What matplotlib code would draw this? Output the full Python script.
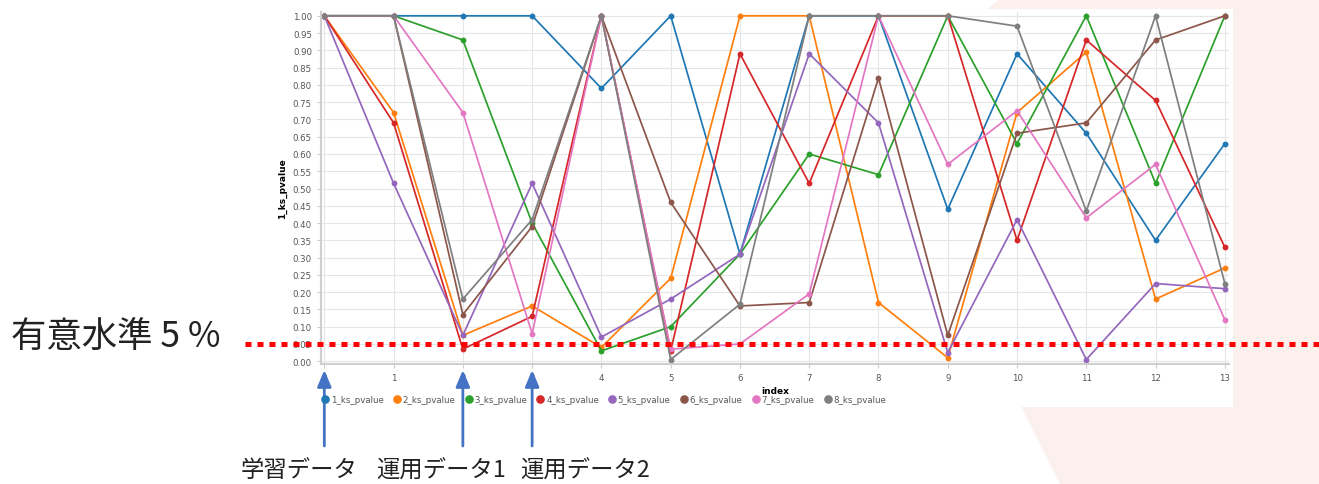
import matplotlib.pyplot as plt
import numpy as np
from matplotlib.lines import Line2D
from matplotlib.patches import Polygon, Rectangle
from matplotlib.transforms import blended_transform_factory

# KS test p-values per feature, one value per data batch (index 0..13)
index = np.arange(14)
ks_1 = [1.00, 1.00, 1.00, 1.00, 0.79, 1.00, 0.31, 1.00, 1.00, 0.44, 0.89, 0.66, 0.35, 0.63]
ks_2 = [1.00, 0.72, 0.075, 0.16, 0.04, 0.24, 1.00, 1.00, 0.17, 0.01, 0.72, 0.895, 0.18, 0.27]
ks_3 = [1.00, 1.00, 0.93, 0.40, 0.03, 0.10, 0.31, 0.60, 0.54, 1.00, 0.63, 1.00, 0.515, 1.00]
ks_4 = [1.00, 0.69, 0.035, 0.13, 1.00, 0.03, 0.89, 0.515, 1.00, 1.00, 0.35, 0.93, 0.755, 0.33]
ks_5 = [1.00, 0.515, 0.075, 0.515, 0.07, 0.18, 0.31, 0.89, 0.69, 0.025, 0.41, 0.005, 0.225, 0.21]
ks_6 = [1.00, 1.00, 0.135, 0.39, 1.00, 0.46, 0.16, 0.17, 0.82, 0.075, 0.66, 0.69, 0.93, 1.00]
ks_7 = [1.00, 1.00, 0.72, 0.08, 1.00, 0.035, 0.05, 0.195, 1.00, 0.57, 0.725, 0.415, 0.57, 0.12]
ks_8 = [1.00, 1.00, 0.18, 0.41, 1.00, 0.005, 0.165, 1.00, 1.00, 1.00, 0.97, 0.435, 1.00, 0.225]
series = [ks_1, ks_2, ks_3, ks_4, ks_5, ks_6, ks_7, ks_8]
names = ["1_ks_pvalue", "2_ks_pvalue", "3_ks_pvalue", "4_ks_pvalue",
         "5_ks_pvalue", "6_ks_pvalue", "7_ks_pvalue", "8_ks_pvalue"]
colors = ["#1f77b4", "#ff7f0e", "#2ca02c", "#d62728",
          "#9467bd", "#8c564b", "#e377c2", "#7f7f7f"]

alpha_level = 0.05
arrow_idx = [0, 2, 3]
arrow_text = ["学習データ", "運用データ1", "運用データ2"]
text_x = [241, 376, 520]

W, H = 1319, 485
fig = plt.figure(figsize=(W / 100, H / 100), dpi=100)
jp = ["Noto Sans CJK JP", "DejaVu Sans"]

# slide background with the pale decoration on the right
bg = fig.add_axes([0, 0, 1, 1], zorder=-1)
bg.set_xlim(0, W)
bg.set_ylim(H, 0)
bg.axis("off")
bg.add_patch(Polygon([(1000, 0), (W, 0), (W, H), (1060, H), (868, 102)],
                     closed=True, facecolor="#fbf0eb", edgecolor="none"))
bg.add_patch(Rectangle((250, 10), 983, 398, facecolor="white", edgecolor="none"))

# the line chart
ax = fig.add_axes([321 / W, (H - 365) / H, (1229 - 321) / W, (365 - 13) / H], zorder=1)
for vals, name, c in zip(series, names, colors):
    ax.plot(index, vals, color=c, lw=1.25, marker="o", ms=3.2, label=name)

ax.set_xlim(-0.048, 13.06)
ax.set_ylim(-0.008, 1.011)
ax.set_xticks(index)
ax.set_yticks(np.arange(0, 1.0001, 0.05))
ax.set_yticklabels([f"{v:.2f}" for v in np.arange(0, 1.0001, 0.05)])
ax.grid(True, color="#e6e6e6", lw=0.8)
ax.set_axisbelow(True)
for s in ["top", "right"]:
    ax.spines[s].set_visible(False)
for s in ["left", "bottom"]:
    ax.spines[s].set_color("#cfcfcf")
    ax.spines[s].set_linewidth(1.5)
ax.tick_params(labelsize=6.2, colors="#cccccc", labelcolor="#555555", length=3, width=0.8)
ax.set_xlabel("index", fontsize=6.5, fontweight="bold", labelpad=3)
ax.set_ylabel("1_ks_pvalue", fontsize=6.5, fontweight="bold", labelpad=4)

handles = [Line2D([], [], color=c, marker="o", ls="none", ms=5.2) for c in colors]
fig.legend(handles, names, loc="center left", ncol=8,
           bbox_to_anchor=(322 / W, 1 - 400.5 / H), frameon=False,
           fontsize=6.2, labelcolor="#555555", handlelength=0.7,
           handletextpad=0.3, columnspacing=1.2, borderpad=0, borderaxespad=0)

# annotations on top
ov = fig.add_axes([0, 0, 1, 1], zorder=5)
ov.set_xlim(0, W)
ov.set_ylim(H, 0)
ov.axis("off")

sig = blended_transform_factory(ov.transData, ax.transData)
ov.plot([245, W], [alpha_level, alpha_level], transform=sig, color="red", lw=3.6,
        ls=(0, (1.2, 1.2)), dash_capstyle="butt", clip_on=False)
ov.text(11, 337, "有意水準 5 %", fontsize=25.5, family=jp, va="center", ha="left",
        color="#222222")

for i, t, tx in zip(arrow_idx, arrow_text, text_x):
    ov.annotate("", xy=(i, 371), xytext=(i, 447),
                xycoords=(ax.transData, ov.transData),
                textcoords=(ax.transData, ov.transData),
                arrowprops=dict(arrowstyle="-|>,head_length=1.0,head_width=0.42",
                                mutation_scale=10, color="#4472c4", lw=2.0,
                                shrinkA=0, shrinkB=0))
    ov.text(tx, 471, t, fontsize=16.8, family=jp, va="center", ha="left",
            color="#222222")

fig.savefig("out.png", dpi=100)
